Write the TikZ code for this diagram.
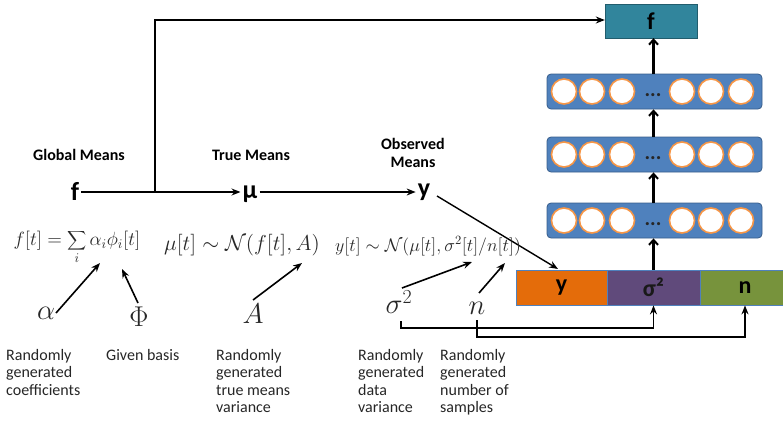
\documentclass[tikz,border=0pt]{standalone}
\usepackage{fontspec}
\setmainfont{Carlito}
\usetikzlibrary{arrows.meta}
\definecolor{teal1}{RGB}{49,133,156}
\definecolor{layblue}{RGB}{79,129,189}
\definecolor{laybord}{RGB}{56,93,138}
\definecolor{circor}{RGB}{247,150,70}
\definecolor{barorange}{RGB}{228,108,10}
\definecolor{barpurple}{RGB}{96,74,123}
\definecolor{bargreen}{RGB}{119,147,60}
\definecolor{mathgray}{RGB}{40,40,40}
\begin{document}
\begin{tikzpicture}[x=1pt,y=-1pt,
  layerbox/.style={draw=laybord,fill=layblue,rounded corners=4pt,minimum width=215pt,minimum height=35pt,line width=0.8pt,inner sep=0pt},
  unit/.style={circle,draw=circor,fill=white,line width=1.6pt,minimum size=25pt,inner sep=0pt},
  dotlbl/.style={font=\fontsize{21}{21}\selectfont\bfseries,text=black!85,inner sep=0pt},
  barbox/.style={draw=layblue,line width=0.8pt,minimum height=35pt,inner sep=0pt,font=\fontsize{24}{24}\selectfont\bfseries},
  nnarrow/.style={line width=2.6pt,-{Straight Barb[length=5pt,width=9pt,line width=2pt]}},
  chainarrow/.style={line width=1.4pt,-{Stealth[length=9pt,width=7pt,inset=3pt]}},
  thinarrow/.style={line width=1.6pt,-{Stealth[length=9pt,width=7pt,inset=3pt]}},
  chainvar/.style={font=\fontsize{26}{26}\selectfont\bfseries,inner sep=2pt},
  headlbl/.style={font=\fontsize{16}{18.5}\selectfont\bfseries,align=center,inner sep=0pt},
  formula/.style={font=\fontsize{14}{16}\selectfont,text=mathgray,inner sep=0pt,transform shape},
  bigsym/.style={font=\fontsize{24}{24}\selectfont,text=mathgray,inner sep=0pt,scale=1.15,transform shape},
  desc/.style={font=\fontsize{16}{17.5}\selectfont,align=left,anchor=north west,inner sep=0pt,text=black!85}
]
\useasboundingbox (0,0) rectangle (783,423);

% output box
\node[draw=teal1!70!black,fill=teal1,minimum width=92pt,minimum height=34pt,inner sep=0pt,font=\fontsize{24}{24}\selectfont\bfseries] (ftop) at (651,21) {f};

% hidden layers
\node[layerbox] (L1) at (654.5,91.5) {};
\node[layerbox] (L2) at (654.5,154.5) {};
\node[layerbox] (L3) at (654.5,220.5) {};
\foreach \L/\yy in {L1/91.5,L2/154.5,L3/220.5}{
  \foreach \xx [count=\k] in {564,592,622,682,711,741}{
    \node[unit] (\L c\k) at (\xx,\yy) {};
  }
  \node[dotlbl] (\L d) at (653,\yy+4) {...};
}

% input bar
\node[barbox,fill=barorange,minimum width=91pt] (yb) at (561.5,287.5) {y};
\node[barbox,fill=barpurple,minimum width=93pt,text=black!90] (sb) at (653.5,287.5) {σ²};
\node[barbox,fill=bargreen,minimum width=90pt] (nb) at (745,287.5) {n};

% NN arrows
\draw[nnarrow] (sb.north) -- (sb.north |- L3.south);
\draw[nnarrow] (L3.north -| sb.north) -- (sb.north |- L2.south);
\draw[nnarrow] (L2.north -| sb.north) -- (sb.north |- L1.south);
\draw[nnarrow] (L1.north -| sb.north) -- (sb.north |- ftop.south);

% headings
\node[headlbl] (hG) at (79,155) {Global Means};
\node[headlbl] (hT) at (251,155) {True Means};
\node[headlbl] (hO) at (413,153) {Observed\\Means};

% chain
\node[chainvar] (fG) at (75,191) {f};
\node[chainvar] (mu) at (250,194) {μ};
\node[chainvar] (yO) at (424,192) {y};
\coordinate (br) at (155,192);
\draw[chainarrow] (fG.east |- br) -- (mu.west |- br);
\draw[chainarrow] (mu.east |- br) -- (yO.west |- br);
\draw[chainarrow] (br) |- (ftop.west |- 0,20);
\coordinate (yin) at (558,269);
\draw[chainarrow] (437,196) -- (yin);

% formulas
\node[formula,scale=1.33] (fm1) at (77,247) {$\displaystyle f[t]=\sum_i\alpha_i\phi_i[t]$};
\node[formula,scale=1.5] (fm2) at (242,245) {$\mu[t]\sim\mathcal{N}(f[t],A)$};
\node[formula,scale=1.26] (fm3) at (428,246) {$y[t]\sim\mathcal{N}(\mu[t],\sigma^2[t]/n[t])$};

% symbols
\node[bigsym] (al) at (46,313) {$\alpha$};
\node[bigsym] (Ph) at (139,317) {$\Phi$};
\node[bigsym] (Av) at (253,314) {$A$};
\node[bigsym] (sg) at (399,302) {$\sigma^2$};
\node[bigsym] (nn) at (477,308) {$n$};

\coordinate (aE) at (100,263);
\coordinate (pE) at (122,269);
\coordinate (AE) at (302,263);
\coordinate (sE) at (472,262);
\coordinate (nE) at (505,263);
\draw[thinarrow] (56,313) -- (aE);
\draw[thinarrow] (138,303) -- (pE);
\draw[thinarrow] (253,300) -- (AE);
\draw[thinarrow] (402,288) -- (sE);
\draw[thinarrow] (479,293) -- (nE);

% feeding lines
\draw[thinarrow] (401,321) -- (401,328) -| (sb.south);
\draw[thinarrow] (477,320) -- (477,337) -| (nb.south);

% descriptions
\node[desc] (t1) at (6,349) {Randomly\\generated\\coefficients};
\node[desc] (t2) at (106,349) {Given basis};
\node[desc] (t3) at (216,349) {Randomly\\generated\\true means\\variance};
\node[desc] (t4) at (358,349) {Randomly\\generated\\data\\variance};
\node[desc] (t5) at (440,349) {Randomly\\generated\\number of\\samples};
\end{tikzpicture}
\end{document}
